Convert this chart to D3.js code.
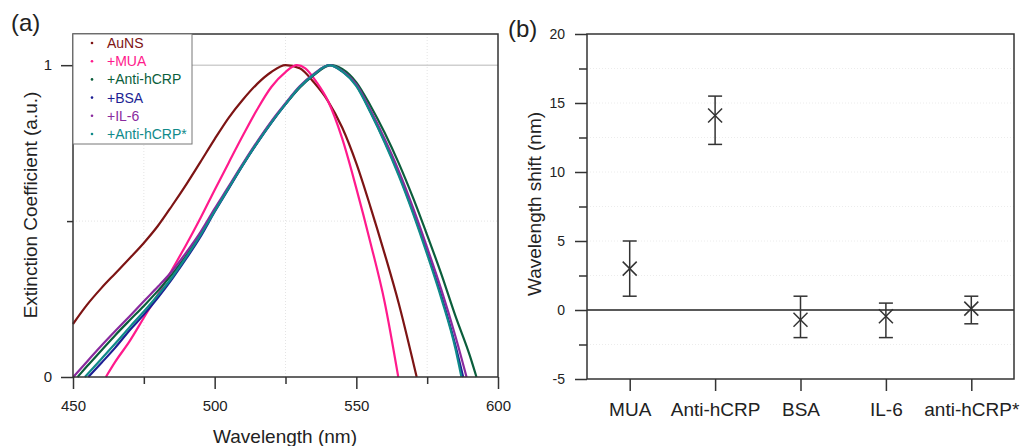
<!DOCTYPE html>
<html>
<head>
  <meta charset="utf-8">
  <title>Extinction spectra and wavelength shift</title>
  <script src="https://d3js.org/d3.v7.min.js"></script>
</head>
<body style="margin:0; background:#fff;">
  <style>
    text { font-family: "Liberation Sans", Arial, sans-serif; fill: #222; }
    .tick line { stroke: #333; stroke-width: 1.5; }
    .tick text { fill: #222; }
  </style>

  <svg id="chart"></svg>

  <script>
    // ---- panel (a) data: normalised extinction spectra, [wavelength nm, value]
    var seriesNames = ["AuNS", "+MUA", "+Anti-hCRP", "+BSA", "+IL-6", "+Anti-hCRP*"];
    var seriesColors = ["#7d1414", "#ff1a8c", "#0b5e3c", "#1d1f94", "#8a2a9e", "#108a8a"];

    var specAuNS = [[450,.17],[455,.232],[460,.285],[465,.333],[470,.381],[475,.43],[480,.485],[485,.55],
      [490,.618],[495,.69],[500,.763],[505,.832],[510,.89],[515,.94],[520,.978],[525,1],[530,.99],
      [535,.945],[540,.885],[545,.80],[550,.685],[555,.545],[560,.395],[565,.235],[570,.05],[571.3,0]];
    var specMUA = [[461.6,0],[465,.05],[470,.115],[475,.19],[480,.265],[485,.345],[490,.425],[495,.51],
      [500,.6],[505,.688],[510,.775],[515,.858],[520,.93],[525,.978],[529,1],[532,.99],[536,.945],
      [540,.885],[545,.765],[550,.605],[555,.43],[560,.24],[564.8,0]];
    var specAntiCRP = [[451.6,0],[455,.035],[460,.085],[465,.135],[470,.182],[475,.228],[480,.277],
      [485,.33],[490,.39],[495,.458],[500,.535],[505,.608],[510,.682],[515,.752],[520,.817],[525,.875],
      [530,.928],[535,.968],[541,1],[545,.988],[550,.945],[555,.87],[560,.783],[565,.685],[570,.575],
      [575,.455],[580,.33],[585,.195],[590,.07],[592.4,0]];
    var specBSA = [[455.4,0],[460,.045],[465,.095],[470,.15],[475,.2],[480,.255],[485,.315],[490,.38],
      [495,.45],[500,.53],[505,.605],[510,.68],[515,.75],[520,.815],[525,.875],[530,.93],[535,.97],
      [540.5,1],[545,.98],[550,.935],[555,.85],[560,.755],[565,.65],[570,.53],[575,.4],[580,.26],
      [585,.1],[587.7,0]];
    var specIL6 = [[450.1,0],[455,.05],[460,.1],[465,.148],[470,.195],[475,.243],[480,.29],[485,.34],
      [490,.4],[495,.465],[500,.54],[505,.612],[510,.685],[515,.755],[520,.82],[525,.878],[530,.932],
      [535,.972],[540.5,1],[545,.982],[550,.938],[555,.856],[560,.763],[565,.66],[570,.543],[575,.415],
      [580,.28],[585,.13],[588.9,0]];
    var specAntiCRP2 = [[454.2,0],[455,.008],[460,.058],[465,.108],[470,.16],[475,.21],[480,.263],
      [485,.32],[490,.385],[495,.455],[500,.532],[505,.607],[510,.681],[515,.751],[520,.816],[525,.875],
      [530,.93],[535,.97],[540.5,1],[545,.98],[550,.933],[555,.848],[560,.752],[565,.645],[570,.525],
      [575,.393],[580,.252],[585,.09],[587.1,0]];
    var spectra = [specAuNS, specMUA, specAntiCRP, specBSA, specIL6, specAntiCRP2];

    var xMajorA = [450, 500, 550, 600];
    var xMinorA = [475, 525, 575];
    var yMajorA = [0, 1];
    var yMinorA = [0.5];

    // ---- panel (b) data: wavelength shift with error range
    var steps = ["MUA", "Anti-hCRP", "BSA", "IL-6", "anti-hCRP*"];
    var shiftMean = [3, 14.1, -0.7, -0.45, 0.1];
    var shiftLow = [1, 12, -2, -2, -1];
    var shiftHigh = [5, 15.5, 1, 0.5, 1];

    var yMajorB = [-5, 0, 5, 10, 15, 20];
    var yMinorB = [-2.5, 2.5, 7.5, 12.5, 17.5];

    var width = 1021, height = 446;
    var svg = d3.select("#chart").attr("width", width).attr("height", height);

    // ================= panel (a) =================
    var xA = d3.scaleLinear().domain([450, 600]).range([73, 498]);
    var yA = d3.scaleLinear().domain([0, 1.1]).range([377, 34]);

    // faint dotted grid
    svg.append("g").selectAll("line").data(xMinorA).enter().append("line")
      .attr("x1", d => xA(d)).attr("x2", d => xA(d)).attr("y1", yA(1.1)).attr("y2", yA(0))
      .attr("stroke", "#e4e4e4").attr("stroke-dasharray", "1,2");
    svg.append("g").selectAll("line").data(yMinorA).enter().append("line")
      .attr("x1", xA(450)).attr("x2", xA(600)).attr("y1", d => yA(d)).attr("y2", d => yA(d))
      .attr("stroke", "#e4e4e4").attr("stroke-dasharray", "1,2");

    // reference line at 1
    svg.append("line")
      .attr("x1", xA(450)).attr("x2", xA(600)).attr("y1", yA(1)).attr("y2", yA(1))
      .attr("stroke", "#cfcfcf").attr("stroke-width", 1.5);

    var line = d3.line()
      .x(d => xA(d[0]))
      .y(d => yA(d[1]))
      .curve(d3.curveMonotoneX);

    svg.append("g").selectAll("path").data(spectra).enter().append("path")
      .attr("d", d => line(d))
      .attr("fill", "none")
      .attr("stroke", (d, i) => seriesColors[i])
      .attr("stroke-width", 2.2);

    // axes
    svg.append("g")
      .attr("transform", "translate(0," + yA(0) + ")")
      .call(d3.axisBottom(xA).tickValues(xMajorA).tickSize(12).tickPadding(11).tickSizeOuter(0))
      .call(g => g.select(".domain").remove())
      .selectAll("text").style("font-size", "15px");
    svg.append("g")
      .attr("transform", "translate(0," + yA(0) + ")")
      .call(d3.axisBottom(xA).tickValues(xMinorA).tickSize(7).tickFormat("").tickSizeOuter(0))
      .call(g => g.select(".domain").remove());
    svg.append("g")
      .attr("transform", "translate(" + xA(450) + ",0)")
      .call(d3.axisLeft(yA).tickValues(yMajorA).tickSize(12).tickPadding(9).tickFormat(d => String(d)).tickSizeOuter(0))
      .call(g => g.select(".domain").remove())
      .selectAll("text").style("font-size", "15px");
    svg.append("g")
      .attr("transform", "translate(" + xA(450) + ",0)")
      .call(d3.axisLeft(yA).tickValues(yMinorA).tickSize(6).tickFormat("").tickSizeOuter(0))
      .call(g => g.select(".domain").remove());

    // frame
    svg.append("rect")
      .attr("x", xA(450)).attr("y", yA(1.1))
      .attr("width", xA(600) - xA(450)).attr("height", yA(0) - yA(1.1))
      .attr("fill", "none").attr("stroke", "#333").attr("stroke-width", 1.5);

    // legend
    var legend = svg.append("g");
    legend.append("rect")
      .attr("x", 73).attr("y", 34).attr("width", 119).attr("height", 110)
      .attr("fill", "#fff").attr("stroke", "#777").attr("stroke-width", 1);
    seriesNames.forEach(function(name, i) {
      var cy = 43 + i * 18.2;
      legend.append("circle")
        .attr("cx", 92).attr("cy", cy).attr("r", 1.3)
        .attr("fill", seriesColors[i]);
      legend.append("text")
        .attr("x", 107).attr("y", cy).attr("dy", "0.36em")
        .style("font-size", "14px")
        .style("fill", seriesColors[i])
        .text(name);
    });

    svg.append("text")
      .attr("x", 285).attr("y", 443)
      .attr("text-anchor", "middle")
      .style("font-size", "19px")
      .text("Wavelength (nm)");
    svg.append("text")
      .attr("transform", "translate(37,205) rotate(-90)")
      .attr("text-anchor", "middle")
      .style("font-size", "19px")
      .text("Extinction Coefficient (a.u.)");
    svg.append("text")
      .attr("x", 11).attr("y", 31)
      .style("font-size", "24px")
      .text("(a)");

    // ================= panel (b) =================
    var xB = d3.scalePoint().domain(steps).range([587, 1014]).padding(0.5);
    var yB = d3.scaleLinear().domain([-5, 20]).range([379, 34]);

    svg.append("g").selectAll("line").data(yMinorB.concat([5, 10, 15])).enter().append("line")
      .attr("x1", xB.range()[0]).attr("x2", xB.range()[1])
      .attr("y1", d => yB(d)).attr("y2", d => yB(d))
      .attr("stroke", "#ececec").attr("stroke-dasharray", "1,2");

    // zero line
    svg.append("line")
      .attr("x1", xB.range()[0]).attr("x2", xB.range()[1])
      .attr("y1", yB(0)).attr("y2", yB(0))
      .attr("stroke", "#222").attr("stroke-width", 1.5);

    svg.append("g")
      .attr("transform", "translate(0," + yB(-5) + ")")
      .call(d3.axisBottom(xB).tickSize(12).tickPadding(12).tickSizeOuter(0))
      .call(g => g.select(".domain").remove())
      .selectAll("text").style("font-size", "19px");
    svg.append("g")
      .attr("transform", "translate(" + xB.range()[0] + ",0)")
      .call(d3.axisLeft(yB).tickValues(yMajorB).tickSize(12).tickPadding(10).tickFormat(d => String(d)).tickSizeOuter(0))
      .call(g => g.select(".domain").remove())
      .selectAll("text").style("font-size", "14px");
    svg.append("g")
      .attr("transform", "translate(" + xB.range()[0] + ",0)")
      .call(d3.axisLeft(yB).tickValues(yMinorB).tickSize(8).tickFormat("").tickSizeOuter(0))
      .call(g => g.select(".domain").remove());

    svg.append("rect")
      .attr("x", xB.range()[0]).attr("y", yB(20))
      .attr("width", xB.range()[1] - xB.range()[0]).attr("height", yB(-5) - yB(20))
      .attr("fill", "none").attr("stroke", "#333").attr("stroke-width", 1.5);

    // error bars and X markers
    var cap = 7, mk = 7;
    var pts = svg.append("g").attr("stroke", "#333").attr("stroke-width", 1.5);
    steps.forEach(function(s, i) {
      var cx = xB(s);
      pts.append("line").attr("x1", cx).attr("x2", cx).attr("y1", yB(shiftLow[i])).attr("y2", yB(shiftHigh[i]));
      pts.append("line").attr("x1", cx - cap).attr("x2", cx + cap).attr("y1", yB(shiftLow[i])).attr("y2", yB(shiftLow[i]));
      pts.append("line").attr("x1", cx - cap).attr("x2", cx + cap).attr("y1", yB(shiftHigh[i])).attr("y2", yB(shiftHigh[i]));
      var cy = yB(shiftMean[i]);
      pts.append("line").attr("x1", cx - mk).attr("x2", cx + mk).attr("y1", cy - mk).attr("y2", cy + mk);
      pts.append("line").attr("x1", cx - mk).attr("x2", cx + mk).attr("y1", cy + mk).attr("y2", cy - mk);
    });

    svg.append("text")
      .attr("transform", "translate(541,204) rotate(-90)")
      .attr("text-anchor", "middle")
      .style("font-size", "19px")
      .text("Wavelength shift (nm)");
    svg.append("text")
      .attr("x", 508).attr("y", 37)
      .style("font-size", "24px")
      .text("(b)");
  </script>
</body>
</html>
